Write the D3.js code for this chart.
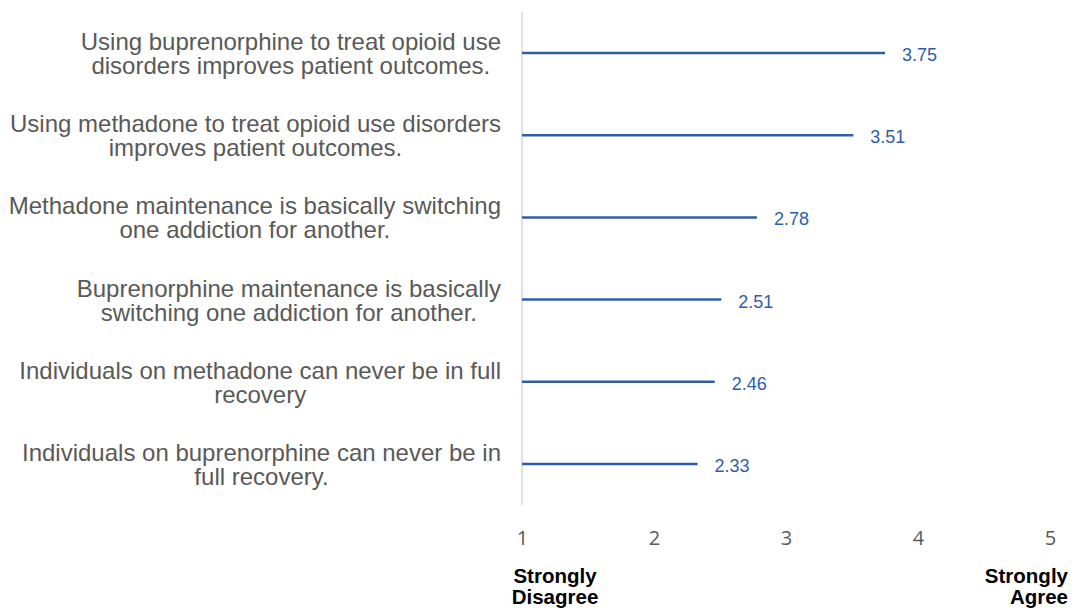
<!DOCTYPE html>
<html lang="en">
<head>
<meta charset="utf-8">
<title>Opioid treatment attitudes</title>
<script src="https://d3js.org/d3.v7.min.js"></script>
<style>
  body { margin: 0; background: #fff; }
  .cat { font-family: "Liberation Sans", Arial, sans-serif; font-size: 24px; fill: #595959; }
  .val { font-family: "Liberation Sans", Arial, sans-serif; font-size: 18px; fill: #2f5ea8; }
  .tick text { font-family: "Open Sans", sans-serif; font-size: 20px; fill: #595959; }
  .anchor { font-family: "Liberation Sans", Arial, sans-serif; font-size: 20.5px; font-weight: bold; fill: #000; }
</style>
</head>
<body>
<div id="chart"></div>
<script>
// statements, top to bottom
const statements = [
  ["Using buprenorphine to treat opioid use", "disorders improves patient outcomes."],
  ["Using methadone to treat opioid use disorders", "improves patient outcomes."],
  ["Methadone maintenance is basically switching", "one addiction for another."],
  ["Buprenorphine maintenance is basically", "switching one addiction for another."],
  ["Individuals on methadone can never be in full", "recovery"],
  ["Individuals on buprenorphine can never be in", "full recovery."]
];
const means = [3.75, 3.51, 2.78, 2.51, 2.46, 2.33];
const ticks = [1, 2, 3, 4, 5];
const anchors = [
  {value: 1, lines: ["Strongly", "Disagree"]},
  {value: 5, lines: ["Strongly", "Agree"]}
];

const width = 1075, height = 610;
const svg = d3.select("#chart").append("svg")
    .attr("width", width)
    .attr("height", height);

const x = d3.scaleLinear().domain([1, 5]).range([522, 1050]);
const y = d3.scaleBand().domain(d3.range(means.length)).range([12, 505]);

// vertical axis line
svg.append("line")
    .attr("x1", x(1)).attr("x2", x(1))
    .attr("y1", y.range()[0]).attr("y2", y.range()[1])
    .attr("stroke", "#d9d9d9")
    .attr("stroke-width", 1.5);

// bars drawn as thin lines
svg.append("g")
  .selectAll("line")
  .data(means)
  .join("line")
    .attr("x1", x(1))
    .attr("x2", d => x(d))
    .attr("y1", (d, i) => y(i) + y.bandwidth() / 2)
    .attr("y2", (d, i) => y(i) + y.bandwidth() / 2)
    .attr("stroke", "#2f5ea8")
    .attr("stroke-width", 2.5);

svg.append("g")
  .selectAll("text")
  .data(means)
  .join("text")
    .attr("class", "val")
    .attr("x", d => x(d) + 17)
    .attr("y", (d, i) => y(i) + y.bandwidth() / 2 + 8)
    .text(d => d.toFixed(2));

// category labels: block right aligned, lines centred inside block
const labelRight = 501, lineGap = 24;
const cats = svg.append("g")
  .selectAll("text")
  .data(statements)
  .join("text")
    .attr("class", "cat")
    .attr("text-anchor", "middle")
    .attr("y", (d, i) => y(i) + y.bandwidth() / 2 - (d.length - 1) / 2 * lineGap + 9);

cats.each(function(lines) {
  const t = d3.select(this);
  const spans = t.selectAll("tspan")
    .data(lines)
    .join("tspan")
      .attr("dy", (d, j) => j === 0 ? 0 : lineGap)
      .text(d => d);
  let maxW = 0;
  spans.each(function() { maxW = Math.max(maxW, this.getComputedTextLength()); });
  spans.attr("x", labelRight - maxW / 2);
});

// x axis ticks, no domain line
const axis = svg.append("g")
    .attr("transform", "translate(0,530)")
    .call(d3.axisBottom(x).tickValues(ticks).tickSize(0).tickPadding(0).tickFormat(d3.format("d")));
axis.select(".domain").remove();
axis.selectAll("text").attr("dy", "0.75em");

// anchor labels: left one centred, right one right aligned
svg.append("g")
  .selectAll("text")
  .data(anchors)
  .join("text")
    .attr("class", "anchor")
    .attr("text-anchor", d => d.value === 1 ? "middle" : "end")
    .attr("x", d => d.value === 1 ? x(d.value) + 33 : x(d.value) + 18)
    .attr("y", 583)
  .selectAll("tspan")
  .data(d => d.lines)
  .join("tspan")
    .attr("x", function() { return this.parentNode.getAttribute("x"); })
    .attr("dy", (d, j) => j === 0 ? 0 : 21)
    .text(d => d);
</script>
</body>
</html>
